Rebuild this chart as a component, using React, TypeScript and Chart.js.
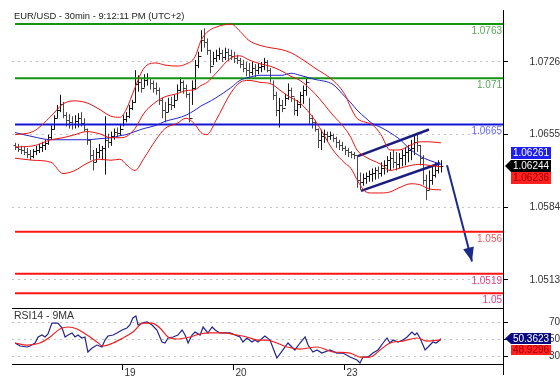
import React, { useEffect, useRef } from 'react';
import { Chart, registerables } from 'chart.js';
Chart.register(...registerables);

// ---------- data ----------
const dayTickIdx = [36, 73, 110];
const dayLabels = ['19', '20', '23'];
const priceTicks = [1.0513, 1.0584, 1.0655, 1.0726];
const rsiTicks = [30, 50, 70];

const firstOpen = 1.0645;
const barHigh = [
  1.0647, 1.0646, 1.0644, 1.0643, 1.0642, 1.064, 1.0641, 1.0644, 1.0646, 1.0648,
  1.065, 1.0655, 1.0664, 1.0674, 1.0684, 1.0694, 1.0687, 1.0677, 1.0675, 1.0673,
  1.0674, 1.0676, 1.0677, 1.0671, 1.0661, 1.065, 1.064, 1.0642, 1.0646, 1.0644,
  1.0673, 1.0656, 1.0658, 1.0661, 1.0662, 1.0665, 1.0674, 1.0677, 1.0684, 1.0689,
  1.0718, 1.0713, 1.071, 1.0714, 1.0715, 1.071, 1.0708, 1.0706, 1.0701, 1.0691,
  1.0687, 1.0691, 1.0692, 1.0694, 1.0704, 1.0711, 1.0708, 1.0704, 1.0696, 1.0708,
  1.0728, 1.0736, 1.0757, 1.0759, 1.0749, 1.0738, 1.0736, 1.0738, 1.074, 1.0738,
  1.074, 1.0739, 1.0738, 1.0736, 1.0733, 1.073, 1.0728, 1.0726, 1.0725, 1.0726,
  1.0724, 1.0725, 1.0726, 1.073, 1.0728, 1.072, 1.0708, 1.0697, 1.0691, 1.0689,
  1.0695, 1.0705, 1.0701, 1.0691, 1.0689, 1.0697, 1.0703, 1.0711, 1.0691, 1.0674,
  1.0669, 1.0661, 1.066, 1.066, 1.0658, 1.0658, 1.0656, 1.0653, 1.065, 1.0648,
  1.0644, 1.0642, 1.0639, 1.0638, 1.0635, 1.0618, 1.0617, 1.0618, 1.062, 1.0622,
  1.0623, 1.0624, 1.0628, 1.063, 1.0634, 1.0638, 1.064, 1.0638, 1.0637, 1.064,
  1.0643, 1.0645, 1.065, 1.0654, 1.0657, 1.0645, 1.0635, 1.0616, 1.062, 1.0625,
  1.0628, 1.063, 1.063,
];
const barLow = [
  1.064, 1.0638, 1.0636, 1.0635, 1.0632, 1.063, 1.0632, 1.0635, 1.0637, 1.0638,
  1.064, 1.0645, 1.065, 1.066, 1.0671, 1.0677, 1.0671, 1.0663, 1.0661, 1.066,
  1.0661, 1.0662, 1.0663, 1.0658, 1.0645, 1.063, 1.062, 1.0628, 1.0632, 1.063,
  1.0616, 1.0642, 1.0644, 1.065, 1.0652, 1.0654, 1.0663, 1.0667, 1.0671, 1.0679,
  1.0686, 1.0697, 1.0696, 1.0701, 1.0703, 1.0699, 1.0696, 1.0694, 1.0684, 1.0671,
  1.0667, 1.0677, 1.0679, 1.0681, 1.0689, 1.0697, 1.0695, 1.0691, 1.0667, 1.0684,
  1.0699, 1.072, 1.0736, 1.074, 1.0733, 1.0715, 1.0723, 1.0726, 1.0728, 1.0726,
  1.0728, 1.0727, 1.0728, 1.0725, 1.0724, 1.072, 1.0716, 1.0712, 1.0711, 1.0713,
  1.0711, 1.0714, 1.0716, 1.0718, 1.0716, 1.0706, 1.0689, 1.0673, 1.0662, 1.0677,
  1.0683, 1.0689, 1.0687, 1.0674, 1.0673, 1.0681, 1.0685, 1.0693, 1.0665, 1.0661,
  1.0658, 1.0642, 1.064, 1.0647, 1.0648, 1.065, 1.0648, 1.0642, 1.064, 1.0639,
  1.0635, 1.0633, 1.0632, 1.0631, 1.0603, 1.0601, 1.0605, 1.0607, 1.0609, 1.0609,
  1.0611, 1.0612, 1.0614, 1.0616, 1.0618, 1.062, 1.0622, 1.062, 1.0622, 1.0624,
  1.0625, 1.0628, 1.063, 1.0635, 1.0638, 1.0625, 1.0606, 1.0591, 1.0601, 1.0606,
  1.0613, 1.0617, 1.0618,
];
const barClose = [
  1.0643, 1.0641, 1.064, 1.0638, 1.0636, 1.0634, 1.0639, 1.064, 1.0643, 1.0645,
  1.0647, 1.0653, 1.0661, 1.0671, 1.0679, 1.0685, 1.0674, 1.0669, 1.0667, 1.0665,
  1.0668, 1.0671, 1.0666, 1.0661, 1.065, 1.0635, 1.0628, 1.0638, 1.064, 1.0642,
  1.065, 1.0648, 1.0654, 1.0658, 1.0657, 1.0661, 1.067, 1.0673, 1.0681, 1.0687,
  1.0704, 1.0706, 1.0701, 1.0708, 1.071, 1.0705, 1.0701, 1.0699, 1.0689, 1.0679,
  1.0677, 1.0685, 1.0684, 1.0689, 1.0699, 1.0706, 1.0701, 1.0695, 1.0671, 1.0701,
  1.0723, 1.0732, 1.0747, 1.0746, 1.0738, 1.0722, 1.073, 1.0733, 1.0735, 1.0731,
  1.0736, 1.0733, 1.0732, 1.073, 1.0728, 1.0724, 1.072, 1.0718, 1.0716, 1.072,
  1.0718, 1.0721, 1.0722, 1.0726, 1.0718, 1.071, 1.0694, 1.0679, 1.0684, 1.0681,
  1.0691, 1.0699, 1.0693, 1.0679, 1.0685, 1.0694, 1.0699, 1.0706, 1.0671, 1.0667,
  1.0661, 1.065, 1.0654, 1.0656, 1.0654, 1.0655, 1.0652, 1.0648, 1.0645, 1.0642,
  1.064, 1.0638, 1.0636, 1.0635, 1.0611, 1.0609, 1.0613, 1.0615, 1.0617, 1.0618,
  1.062, 1.0618, 1.0622, 1.0625, 1.063, 1.0632, 1.0628, 1.0626, 1.0632, 1.0635,
  1.0638, 1.064, 1.0642, 1.0648, 1.0645, 1.0632, 1.0611, 1.0601, 1.0611, 1.0616,
  1.062, 1.0624, 1.06244,
];

const bandIdx = [
  0, 6, 12, 16, 20, 24, 28, 32, 35, 37, 40, 43, 47, 50, 54, 57, 60, 62, 64, 67,
  72, 75, 78, 82, 85, 89, 92, 95, 100, 106, 110, 112, 114, 117, 119, 122, 125, 128, 132, 135,
  138, 142,
];
const upperBand = [
  1.0655, 1.0658, 1.0673, 1.0685, 1.0688, 1.0686, 1.068, 1.0673, 1.0672, 1.0679,
  1.0701, 1.072, 1.0725, 1.0723, 1.0722, 1.0724, 1.0731, 1.0747, 1.0755, 1.076,
  1.0763, 1.0756, 1.0747, 1.0742, 1.074, 1.0738, 1.0735, 1.073, 1.072, 1.0708,
  1.0694, 1.0681, 1.0671, 1.0667, 1.0665, 1.0655, 1.064, 1.064, 1.0645, 1.0648,
  1.0648, 1.0647,
];
const middleBand = [
  1.0643, 1.0644, 1.065, 1.0652, 1.0655, 1.0658, 1.0656, 1.0652, 1.0652, 1.0653,
  1.0661, 1.0676, 1.0687, 1.0692, 1.0695, 1.0698, 1.0699, 1.0703, 1.0706, 1.0715,
  1.073, 1.0732, 1.0728, 1.0724, 1.0722, 1.0717, 1.0712, 1.0708, 1.0695, 1.0674,
  1.0661, 1.0652, 1.064, 1.0633, 1.063, 1.0626, 1.062, 1.0622, 1.0625, 1.0626,
  1.0625, 1.06236,
];
const lowerBand = [
  1.0632, 1.063, 1.0628, 1.0617, 1.062, 1.0627, 1.0631, 1.063, 1.0631, 1.0626,
  1.062, 1.0632, 1.065, 1.0661, 1.0666, 1.0671, 1.0665, 1.0657, 1.0655, 1.0669,
  1.0696, 1.0706, 1.0708, 1.0706, 1.0705, 1.0697, 1.0691, 1.0686, 1.0669, 1.064,
  1.0627, 1.0622, 1.0611, 1.0599, 1.0598, 1.0598, 1.0599, 1.0603, 1.0607, 1.0606,
  1.0602, 1.0601,
];
const blueMA = [
  1.0657, 1.0653, 1.065, 1.065, 1.065, 1.065, 1.0651, 1.0652, 1.0654, 1.0655,
  1.0658, 1.0661, 1.0664, 1.0668, 1.0671, 1.0674, 1.0679, 1.0683, 1.0686, 1.0691,
  1.0701, 1.0708, 1.0711, 1.0713, 1.0713, 1.0713, 1.0715, 1.0713, 1.0709, 1.0704,
  1.0692, 1.0686, 1.0679, 1.0671, 1.0666, 1.0662, 1.0657, 1.0651, 1.064, 1.0634,
  1.063, 1.06261,
];

const levelValues = [1.0763, 1.071, 1.0665, 1.056, 1.0519, 1.05];
const levelLabels = ['1.0763', '1.071', '1.0665', '1.056', '1.0519', '1.05'];
const levelStartIdx = 0;

const channelUpperIdx = [114.33, 138];
const channelUpperPrice = [1.0634, 1.066];
const channelLowerIdx = [115.33, 141.67];
const channelLowerPrice = [1.06, 1.0627];
const arrowIdx = [144, 152.33];
const arrowPrice = [1.0625, 1.0531];

const rsiIdx = [
  0, 1.7, 4, 5, 6.7, 7.7, 9, 10, 11, 12.3, 13.3, 14.3, 15.7, 16.7, 17.7, 19, 20, 21, 22.3, 23.3,
  24.3, 25.7, 27.3, 29, 30, 31, 32.7, 34, 35.7, 37.3, 38.3, 39.3, 40.3, 41, 42.3, 44, 45.7, 47.3, 49, 50,
  51, 52.7, 54.3, 55.7, 56.7, 57.7, 59, 60, 61.7, 62.7, 64.3, 65.7, 66.7, 68.3, 71.7, 75, 76, 77.3, 79, 80,
  81, 83.3, 85, 87.3, 89.3, 91, 92.3, 93.3, 95, 96.7, 97.7, 99.3, 100.7, 102.3, 105, 107.3, 109.3, 111.7, 114, 115,
  116, 117.7, 119.3, 121, 122.7, 124, 125, 126, 127.7, 129.3, 130.7, 132.3, 133.3, 134, 135, 136.7, 137.7, 139.3, 140.3, 141.3,
  142,
];
const rsiVal = [
  45.3, 41.8, 40.6, 41.8, 45.3, 52.4, 54.7, 52.4, 55.9, 68.8, 68.8, 68.8, 62.9, 52.4, 54.7, 57.1, 52.4, 54.7, 51.2, 52.4,
  34.7, 39.4, 42.9, 40.6, 48.8, 53.5, 54.7, 57.1, 60.6, 62.9, 66.5, 74.7, 77.1, 66.5, 68.8, 70, 66.5, 60.6, 46.5, 45.3,
  51.2, 52.4, 54.7, 60.6, 54.7, 45.3, 54.7, 58.2, 54.7, 64.1, 57.1, 64.1, 60.6, 57.1, 57.1, 52.4, 46.5, 51.2, 46.5, 48.8,
  46.5, 53.5, 48.8, 27.6, 37.1, 45.3, 40.6, 37.1, 45.3, 52.4, 42.9, 34.7, 37.1, 33.5, 37.1, 33.5, 33.5, 28.8, 25.3, 21.8,
  28.8, 28.8, 33.5, 37.1, 45.3, 51.2, 45.3, 48.8, 46.5, 48.8, 52.4, 58.2, 54.7, 57.1, 51.2, 37.1, 40.6, 46.5, 45.3, 47.6,
  50.3623,
];
const rsiMaIdx = [
  0, 4, 8.3, 11.7, 15, 17.7, 20.7, 24, 27.3, 29.3, 32.7, 36, 39.3, 42.7, 45.7, 48.3, 51, 54, 58.3, 61.7,
  65, 69.3, 74, 77.3, 81, 84, 87.3, 90.7, 95, 100.7, 106, 111.7, 115, 118.3, 121.7, 125, 129.3, 134, 137.3, 142,
];
const rsiMaVal = [
  45.3, 42.9, 45.3, 52.4, 61.8, 64.1, 61.8, 54.7, 46.5, 41.8, 45.3, 51.2, 58.2, 68.8, 68.8, 62.9, 52.4, 50, 52.4, 55.9,
  57.1, 57.1, 54.7, 52.4, 48.8, 48.8, 45.3, 40.6, 38.2, 40.6, 34.7, 33.5, 28.8, 28.8, 37.1, 45.3, 47.6, 51.2, 47.6, 48.9296,
];

// ---------- styling / layout ----------
const TITLE = 'EUR/USD - 30min - 9:12:11 PM (UTC+2)';
const RSI_TITLE = 'RSI14 - 9MA';
const X_MIN = -1;
const X_MAX = 162.67;
const PRICE_MIN = 1.04856;
const PRICE_MAX = 1.07768;
const RSI_MIN = 20.6;
const RSI_MAX = 85.3;
const FONT = "'Liberation Sans', Arial, sans-serif";
const levelLineColors = ['#129612', '#129612', '#1414d8', '#ff1414', '#ff1414', '#ff1414'];
const levelTextColors = ['#5aa55a', '#5aa55a', '#6a6aff', '#f05a5a', '#e0408a', '#e0408a'];

const pts = (xs: number[], ys: number[]) => xs.map((x, k) => ({ x, y: ys[k] }));

function drawBox(ctx: CanvasRenderingContext2D, left: number, right: number, cy: number, h: number,
  bg: string, fg: string, text: string, arrow: boolean) {
  const top = Math.round(cy - h / 2);
  ctx.fillStyle = bg;
  ctx.beginPath();
  if (arrow) {
    ctx.moveTo(left - 6, top + h / 2);
    ctx.lineTo(left, top);
    ctx.lineTo(right, top);
    ctx.lineTo(right, top + h);
    ctx.lineTo(left, top + h);
    ctx.closePath();
  } else {
    ctx.rect(left, top, right - left, h);
  }
  ctx.fill();
  ctx.fillStyle = fg;
  ctx.font = `10px ${FONT}`;
  ctx.textAlign = 'center';
  ctx.textBaseline = 'middle';
  ctx.fillText(text, (left + right) / 2, top + h / 2 + 0.5);
}

const mainDecor = {
  id: 'mainDecor',
  beforeDatasetsDraw(chart: any) {
    const { ctx, chartArea: ca, scales } = chart;
    const x = scales.x, y = scales.y;
    ctx.save();
    ctx.beginPath();
    ctx.rect(ca.left, ca.top, ca.right - ca.left, ca.bottom - ca.top);
    ctx.clip();
    ctx.lineWidth = 1;
    for (let i = 0; i < barClose.length; i++) {
      const open = i === 0 ? firstOpen : barClose[i - 1];
      const px = Math.round(x.getPixelForValue(i)) + 0.5;
      const yh = y.getPixelForValue(barHigh[i]);
      const yl = y.getPixelForValue(barLow[i]);
      const yo = Math.round(y.getPixelForValue(open)) + 0.5;
      const yc = Math.round(y.getPixelForValue(barClose[i])) + 0.5;
      ctx.strokeStyle = barClose[i] >= open ? '#151515' : '#484848';
      ctx.beginPath();
      ctx.moveTo(px, yh);
      ctx.lineTo(px, yl);
      ctx.moveTo(px - 2, yo);
      ctx.lineTo(px, yo);
      ctx.moveTo(px, yc);
      ctx.lineTo(px + 2, yc);
      ctx.stroke();
    }
    ctx.restore();
  },
  afterDatasetsDraw(chart: any) {
    const { ctx, chartArea: ca, scales } = chart;
    const x = scales.x, y = scales.y;
    ctx.save();
    const x1 = x.getPixelForValue(arrowIdx[0]), y1 = y.getPixelForValue(arrowPrice[0]);
    const x2 = x.getPixelForValue(arrowIdx[1]), y2 = y.getPixelForValue(arrowPrice[1]);
    const a = Math.atan2(y2 - y1, x2 - x1);
    const L = 14, W = 5.5;
    const bx = x2 - Math.cos(a) * L, by = y2 - Math.sin(a) * L;
    ctx.fillStyle = '#1c2a8c';
    ctx.beginPath();
    ctx.moveTo(x2, y2);
    ctx.lineTo(bx + Math.sin(a) * W, by - Math.cos(a) * W);
    ctx.lineTo(bx - Math.sin(a) * W, by + Math.cos(a) * W);
    ctx.closePath();
    ctx.fill();
    ctx.font = `10px ${FONT}`;
    ctx.textAlign = 'right';
    ctx.textBaseline = 'top';
    levelValues.forEach((v, k) => {
      ctx.fillStyle = levelTextColors[k];
      ctx.fillText(levelLabels[k], ca.right - 1, y.getPixelForValue(v) + 2);
    });
    ctx.fillStyle = '#222';
    ctx.font = `9.4px ${FONT}`;
    ctx.textAlign = 'left';
    ctx.textBaseline = 'middle';
    ctx.fillText(TITLE, 14, 16);
    ctx.restore();
  },
  afterDraw(chart: any) {
    const { ctx, chartArea: ca, scales } = chart;
    const y = scales.y;
    ctx.save();
    ctx.strokeStyle = '#000';
    ctx.lineWidth = 1;
    ctx.beginPath();
    ctx.moveTo(ca.left, ca.bottom + 0.5);
    ctx.lineTo(ca.right, ca.bottom + 0.5);
    ctx.stroke();
    const lastClose = barClose[barClose.length - 1];
    const cy = y.getPixelForValue(lastClose);
    const l = ca.right + 8, r = ca.right + 48;
    drawBox(ctx, l, r, cy - 13, 12, '#1e1ef0', '#fff', blueMA[blueMA.length - 1].toFixed(5), false);
    drawBox(ctx, l, r, cy + 12.5, 12, '#ff2020', '#a00000', middleBand[middleBand.length - 1].toFixed(5), false);
    drawBox(ctx, l, r, cy, 12, '#000', '#fff', lastClose.toFixed(5), true);
    ctx.restore();
  },
};

const rsiDecor = {
  id: 'rsiDecor',
  afterDraw(chart: any) {
    const { ctx, chartArea: ca, scales } = chart;
    const y = scales.y;
    ctx.save();
    ctx.strokeStyle = '#000';
    ctx.lineWidth = 1;
    ctx.beginPath();
    ctx.moveTo(ca.right + 0.5, ca.bottom);
    ctx.lineTo(ca.right + 0.5, ca.bottom + 11);
    ctx.stroke();
    ctx.fillStyle = '#333';
    ctx.font = `10.5px ${FONT}`;
    ctx.textAlign = 'left';
    ctx.textBaseline = 'middle';
    ctx.fillText(RSI_TITLE, 14, ca.top + 7);
    const lastRsi = rsiVal[rsiVal.length - 1];
    const cy = y.getPixelForValue(lastRsi);
    const l = ca.right + 8, r = ca.right + 48;
    drawBox(ctx, l, r, cy + 11, 10, '#ff2020', '#a00000', rsiMaVal[rsiMaVal.length - 1].toFixed(4), false);
    drawBox(ctx, l, r, cy, 11, '#0a0a80', '#fff', lastRsi.toFixed(4), true);
    ctx.restore();
  },
};

const lineDs = (data: any[], color: string, width: number, tension = 0) => ({
  type: 'line' as const,
  data,
  borderColor: color,
  borderWidth: width,
  pointRadius: 0,
  fill: false,
  tension,
  cubicInterpolationMode: tension ? ('monotone' as const) : ('default' as const),
});

const fitRightAxis = (s: any) => {
  s.width = 57;
  s.paddingTop = 0;
  s.paddingBottom = 0;
};

export default function App() {
  const mainRef = useRef<HTMLCanvasElement>(null);
  const rsiRef = useRef<HTMLCanvasElement>(null);

  useEffect(() => {
    document.body.style.margin = '0';
    const tickFont = { size: 10, family: FONT };

    const mainDatasets: any[] = [
      lineDs(pts(bandIdx, upperBand), '#e81414', 1, 0.4),
      lineDs(pts(bandIdx, middleBand), '#e81414', 1, 0.4),
      lineDs(pts(bandIdx, lowerBand), '#e81414', 1, 0.4),
      lineDs(pts(bandIdx, blueMA), '#2424cc', 1, 0.4),
      ...levelValues.map((v, k) =>
        lineDs([{ x: levelStartIdx, y: v }, { x: X_MAX, y: v }], levelLineColors[k], 2)),
      lineDs(pts(channelUpperIdx, channelUpperPrice), '#1c1c80', 2.5),
      lineDs(pts(channelLowerIdx, channelLowerPrice), '#1c1c80', 2.5),
      lineDs(pts(arrowIdx, arrowPrice), '#1c2a8c', 2),
    ];

    const main = new Chart(mainRef.current as HTMLCanvasElement, {
      type: 'line',
      data: { datasets: mainDatasets },
      options: {
        responsive: false,
        maintainAspectRatio: false,
        animation: false,
        devicePixelRatio: 1,
        layout: { padding: { left: 12, top: 10, right: 0, bottom: 1 } },
        plugins: { legend: { display: false }, tooltip: { enabled: false } },
        scales: {
          x: { type: 'linear', min: X_MIN, max: X_MAX, display: false },
          y: {
            type: 'linear',
            position: 'right',
            min: PRICE_MIN,
            max: PRICE_MAX,
            afterBuildTicks: (s: any) => { s.ticks = priceTicks.map((v) => ({ value: v })); },
            afterFit: fitRightAxis,
            ticks: {
              callback: (v: any) => Number(v).toFixed(4),
              font: tickFont,
              color: '#333',
              padding: 10,
              crossAlign: 'far',
            },
            grid: { color: '#c4c4c4', lineWidth: 1, tickColor: '#000', tickLength: 5, drawTicks: true },
            border: { display: true, color: '#000', width: 1, dash: [2, 4] },
          },
        },
      } as any,
      plugins: [mainDecor],
    });

    const rsi = new Chart(rsiRef.current as HTMLCanvasElement, {
      type: 'line',
      data: {
        datasets: [
          lineDs(pts(rsiMaIdx, rsiMaVal), '#ee2020', 1.2, 0.4),
          lineDs(pts(rsiIdx, rsiVal), '#24248c', 1.2),
        ] as any,
      },
      options: {
        responsive: false,
        maintainAspectRatio: false,
        animation: false,
        devicePixelRatio: 1,
        layout: { padding: { left: 12, top: 0, right: 0, bottom: 0 } },
        plugins: { legend: { display: false }, tooltip: { enabled: false } },
        scales: {
          x: {
            type: 'linear',
            min: X_MIN,
            max: X_MAX,
            position: 'bottom',
            afterBuildTicks: (s: any) => { s.ticks = dayTickIdx.map((v) => ({ value: v })); },
            afterFit: (s: any) => { s.height = 22; s.paddingLeft = 0; s.paddingRight = 0; },
            ticks: {
              callback: (_v: any, i: number) => dayLabels[i] ?? '',
              font: tickFont,
              color: '#333',
              padding: -3,
              labelOffset: 7,
              maxRotation: 0,
              autoSkip: false,
            },
            grid: { drawOnChartArea: false, drawTicks: true, tickLength: 6, tickColor: '#000' },
            border: { display: true, color: '#000', width: 1 },
          },
          y: {
            type: 'linear',
            position: 'right',
            min: RSI_MIN,
            max: RSI_MAX,
            afterBuildTicks: (s: any) => { s.ticks = rsiTicks.map((v) => ({ value: v })); },
            afterFit: fitRightAxis,
            ticks: {
              callback: (v: any) => String(v),
              font: tickFont,
              color: '#333',
              padding: 29,
              crossAlign: 'far',
            },
            grid: { color: '#c4c4c4', lineWidth: 1, tickColor: '#000', tickLength: 5, drawTicks: true },
            border: { display: true, color: '#000', width: 1, dash: [2, 4] },
          },
        },
      } as any,
      plugins: [rsiDecor],
    });

    return () => {
      main.destroy();
      rsi.destroy();
    };
  }, []);

  return (
    <div style={{ width: 560, height: 386, background: '#fff' }}>
      <canvas ref={mainRef} width={560} height={309} style={{ display: 'block' }} />
      <canvas ref={rsiRef} width={560} height={77} style={{ display: 'block' }} />
    </div>
  );
}
